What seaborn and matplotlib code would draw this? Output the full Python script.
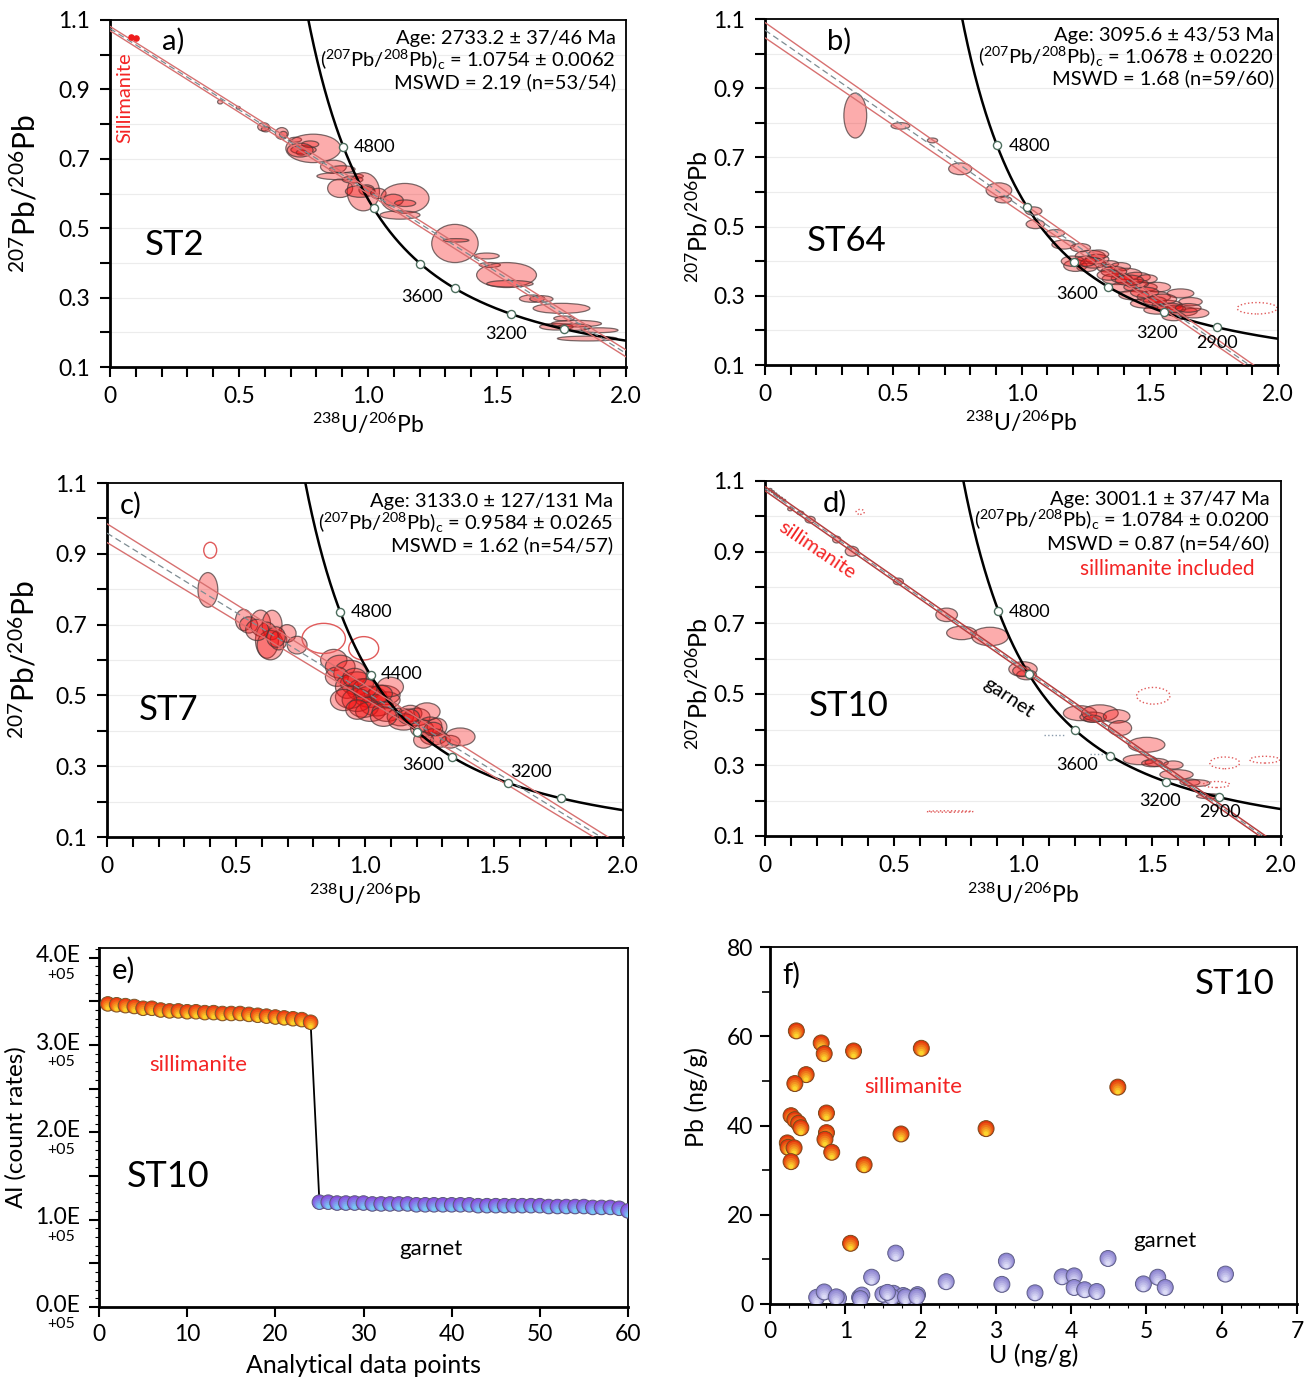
import numpy as np
import matplotlib
matplotlib.use("Agg")
import matplotlib.pyplot as plt
import matplotlib.transforms as mtrans
from matplotlib.patches import Ellipse
from matplotlib.colors import to_rgb
import seaborn as sns

# ---------------- constants for the concordia ----------------
L238 = 1.55125e-4   # 1/Ma
L235 = 9.8485e-4    # 1/Ma
U_RATIO = 137.88
curve_ages = np.arange(2500, 5601, 10)
marker_ages = [4800, 4400, 3900, 3600, 3200, 2900]

# ---------------- panel a (ST2) ----------------
a_x = [0.427, 0.497, 0.595, 0.604, 0.666, 0.672, 0.718, 0.788, 0.750, 0.776, 0.742, 0.737, 0.866, 0.892, 0.892, 0.900, 0.940, 0.982, 0.995, 0.970, 1.040, 1.143, 1.098, 1.144, 1.124, 1.337, 1.341, 1.460, 1.472, 1.537, 1.550, 1.636, 1.672, 1.750, 1.730, 1.760, 1.808, 1.800, 1.898, 1.850]
a_y = [0.864, 0.847, 0.792, 0.785, 0.773, 0.770, 0.755, 0.730, 0.726, 0.742, 0.718, 0.725, 0.677, 0.650, 0.615, 0.670, 0.640, 0.605, 0.610, 0.606, 0.600, 0.586, 0.581, 0.572, 0.538, 0.456, 0.465, 0.420, 0.394, 0.365, 0.340, 0.297, 0.296, 0.269, 0.216, 0.240, 0.225, 0.215, 0.206, 0.182]
a_w = [0.020, 0.016, 0.045, 0.035, 0.050, 0.030, 0.049, 0.213, 0.098, 0.066, 0.040, 0.100, 0.100, 0.180, 0.097, 0.100, 0.080, 0.125, 0.060, 0.115, 0.060, 0.187, 0.077, 0.082, 0.155, 0.180, 0.100, 0.097, 0.082, 0.232, 0.180, 0.098, 0.090, 0.220, 0.130, 0.080, 0.194, 0.130, 0.142, 0.232]
a_h = [0.012, 0.008, 0.024, 0.015, 0.034, 0.018, 0.014, 0.082, 0.024, 0.019, 0.015, 0.040, 0.038, 0.021, 0.053, 0.020, 0.020, 0.110, 0.030, 0.034, 0.030, 0.086, 0.034, 0.019, 0.024, 0.110, 0.010, 0.017, 0.014, 0.072, 0.019, 0.021, 0.019, 0.029, 0.019, 0.014, 0.019, 0.019, 0.014, 0.014]
a_sx = [0.080, 0.100]
a_sy = [1.052, 1.048]
a_info = ["Age: 2733.2 ± 37/46 Ma", "($^{207}$Pb/$^{208}$Pb)$_\\mathrm{c}$ = 1.0754 ± 0.0062", "MSWD = 2.19 (n=53/54)"]
a_age, a_y0 = 2733.2, 1.0754

# ---------------- panel b (ST64) ----------------
b_x = [0.352, 0.528, 0.653, 0.761, 0.912, 0.929, 1.047, 1.054, 1.132, 1.164, 1.230, 1.268, 1.295, 1.210, 1.255, 1.346, 1.386, 1.410, 1.373, 1.450, 1.490, 1.399, 1.464, 1.529, 1.438, 1.516, 1.620, 1.659, 1.490, 1.568, 1.529, 1.620, 1.672, 1.594, 1.300, 1.390, 1.520, 1.600, 1.330, 1.450, 1.200, 1.280, 1.360, 1.420, 1.480, 1.550, 1.580, 1.650, 1.340, 1.250]
b_y = [0.821, 0.791, 0.749, 0.667, 0.605, 0.578, 0.545, 0.507, 0.481, 0.448, 0.439, 0.415, 0.406, 0.387, 0.382, 0.392, 0.384, 0.363, 0.349, 0.354, 0.349, 0.325, 0.325, 0.325, 0.302, 0.297, 0.307, 0.283, 0.278, 0.273, 0.259, 0.255, 0.250, 0.240, 0.420, 0.350, 0.285, 0.262, 0.380, 0.335, 0.400, 0.395, 0.370, 0.345, 0.310, 0.290, 0.265, 0.265, 0.360, 0.400]
b_w = [0.089, 0.073, 0.040, 0.090, 0.100, 0.065, 0.065, 0.072, 0.072, 0.091, 0.078, 0.117, 0.091, 0.091, 0.078, 0.065, 0.078, 0.117, 0.117, 0.104, 0.078, 0.104, 0.130, 0.104, 0.117, 0.130, 0.104, 0.091, 0.130, 0.117, 0.104, 0.130, 0.117, 0.091, 0.080, 0.080, 0.090, 0.080, 0.070, 0.090, 0.090, 0.100, 0.100, 0.110, 0.110, 0.110, 0.100, 0.100, 0.090, 0.080]
b_h = [0.130, 0.019, 0.014, 0.034, 0.043, 0.019, 0.024, 0.026, 0.021, 0.026, 0.024, 0.033, 0.028, 0.033, 0.024, 0.019, 0.024, 0.033, 0.033, 0.028, 0.024, 0.028, 0.028, 0.028, 0.028, 0.033, 0.026, 0.024, 0.028, 0.028, 0.024, 0.028, 0.028, 0.024, 0.025, 0.025, 0.025, 0.022, 0.022, 0.025, 0.030, 0.030, 0.030, 0.030, 0.030, 0.030, 0.028, 0.025, 0.030, 0.030]
b_ox, b_oy, b_ow, b_oh = [1.919], [0.264], [0.156], [0.033]
b_info = ["Age: 3095.6 ± 43/53 Ma", "($^{207}$Pb/$^{208}$Pb)$_\\mathrm{c}$ = 1.0678 ± 0.0220", "MSWD = 1.68 (n=59/60)"]
b_age, b_y0 = 3095.6, 1.0678

# ---------------- panel c (ST7) ----------------
c_x = [0.391, 0.530, 0.549, 0.595, 0.640, 0.620, 0.633, 0.665, 0.698, 0.737, 0.582, 0.655, 0.879, 0.904, 0.943, 0.891, 0.969, 0.930, 0.995, 0.943, 1.021, 1.072, 1.085, 1.046, 0.995, 0.969, 0.917, 1.021, 1.085, 1.098, 1.137, 1.176, 1.201, 1.240, 1.150, 1.253, 1.221, 1.279, 1.266, 1.292, 1.330, 1.369, 1.227, 1.072, 0.970, 1.060, 1.000, 0.960, 1.170, 1.265]
c_y = [0.798, 0.713, 0.699, 0.704, 0.699, 0.656, 0.642, 0.656, 0.675, 0.642, 0.685, 0.665, 0.600, 0.581, 0.562, 0.553, 0.534, 0.524, 0.515, 0.496, 0.496, 0.501, 0.487, 0.472, 0.468, 0.487, 0.487, 0.454, 0.454, 0.524, 0.439, 0.449, 0.439, 0.454, 0.425, 0.416, 0.406, 0.411, 0.383, 0.374, 0.369, 0.383, 0.374, 0.440, 0.460, 0.505, 0.520, 0.550, 0.440, 0.405]
c_w = [0.077, 0.064, 0.070, 0.077, 0.077, 0.089, 0.102, 0.064, 0.070, 0.077, 0.089, 0.072, 0.102, 0.115, 0.128, 0.089, 0.128, 0.089, 0.128, 0.115, 0.128, 0.128, 0.102, 0.128, 0.115, 0.115, 0.102, 0.115, 0.115, 0.102, 0.102, 0.089, 0.102, 0.102, 0.115, 0.089, 0.089, 0.077, 0.102, 0.077, 0.077, 0.115, 0.077, 0.102, 0.089, 0.092, 0.092, 0.092, 0.082, 0.072]
c_h = [0.098, 0.060, 0.046, 0.074, 0.083, 0.102, 0.083, 0.055, 0.050, 0.050, 0.060, 0.058, 0.060, 0.065, 0.074, 0.055, 0.065, 0.065, 0.065, 0.065, 0.060, 0.055, 0.046, 0.060, 0.060, 0.065, 0.060, 0.055, 0.055, 0.055, 0.050, 0.046, 0.050, 0.050, 0.046, 0.046, 0.050, 0.050, 0.046, 0.041, 0.036, 0.050, 0.046, 0.055, 0.055, 0.048, 0.053, 0.053, 0.043, 0.038]
c_ox = [0.400, 0.840, 0.995]
c_oy = [0.910, 0.661, 0.633]
c_ow = [0.050, 0.168, 0.116]
c_oh = [0.045, 0.085, 0.066]
c_info = ["Age: 3133.0 ± 127/131 Ma", "($^{207}$Pb/$^{208}$Pb)$_\\mathrm{c}$ = 0.9584 ± 0.0265", "MSWD = 1.62 (n=54/57)"]
c_age, c_y0 = 3133.0, 0.9584

# ---------------- panel d (ST10) ----------------
d_x = [0.020, 0.030, 0.040, 0.050, 0.062, 0.075, 0.098, 0.137, 0.175, 0.278, 0.337, 0.517, 0.704, 0.762, 0.872, 1.000, 1.014, 0.995, 1.221, 1.272, 1.298, 1.363, 1.376, 1.479, 1.453, 1.518, 1.582, 1.595, 1.647, 1.673, 1.724, 1.740, 1.270, 1.500]
d_y = [1.076, 1.070, 1.064, 1.058, 1.052, 1.046, 1.021, 1.010, 0.991, 0.935, 0.902, 0.817, 0.723, 0.672, 0.662, 0.570, 0.554, 0.565, 0.446, 0.435, 0.446, 0.437, 0.404, 0.357, 0.315, 0.307, 0.300, 0.273, 0.251, 0.249, 0.212, 0.210, 0.430, 0.305]
d_w = [0.014, 0.012, 0.012, 0.012, 0.012, 0.010, 0.020, 0.026, 0.039, 0.032, 0.052, 0.039, 0.084, 0.116, 0.142, 0.110, 0.077, 0.070, 0.129, 0.103, 0.142, 0.103, 0.090, 0.142, 0.129, 0.090, 0.077, 0.129, 0.077, 0.103, 0.103, 0.065, 0.070, 0.080]
d_h = [0.006, 0.006, 0.005, 0.005, 0.005, 0.005, 0.010, 0.010, 0.019, 0.019, 0.028, 0.019, 0.038, 0.038, 0.052, 0.042, 0.028, 0.030, 0.042, 0.028, 0.047, 0.038, 0.042, 0.042, 0.028, 0.023, 0.023, 0.028, 0.019, 0.019, 0.014, 0.011, 0.020, 0.020]
d_ox = [0.369, 1.505, 1.782, 1.937, 1.750, 0.717]
d_oy = [1.013, 0.495, 0.306, 0.315, 0.245, 0.169]
d_ow = [0.032, 0.129, 0.116, 0.116, 0.103, 0.180]
d_oh = [0.014, 0.047, 0.033, 0.019, 0.017, 0.004]
d_info = ["Age: 3001.1 ± 37/47 Ma", "($^{207}$Pb/$^{208}$Pb)$_\\mathrm{c}$ = 1.0784 ± 0.0200", "MSWD = 0.87 (n=54/60)"]
d_age, d_y0 = 3001.1, 1.0784

# ---------------- panel e (Al count rates, units of 1E+05) ----------------
al_sil = [3.47, 3.46, 3.45, 3.44, 3.42, 3.42, 3.40, 3.39, 3.39, 3.38, 3.38, 3.37, 3.37, 3.36, 3.36, 3.36, 3.35, 3.34, 3.33, 3.32, 3.31, 3.30, 3.29, 3.26]
al_gar = [1.20, 1.20, 1.19, 1.19, 1.19, 1.19, 1.18, 1.18, 1.18, 1.18, 1.18, 1.17, 1.17, 1.17, 1.17, 1.17, 1.17, 1.17, 1.16, 1.16, 1.16, 1.16, 1.16, 1.16, 1.16, 1.16, 1.15, 1.15, 1.15, 1.15, 1.15, 1.14, 1.14, 1.14, 1.13, 1.10]
e_yticks = [0, 1, 2, 3, 4]
e_ylabels = ["0.0E", "1.0E", "2.0E", "3.0E", "4.0E"]

# ---------------- panel f (Pb vs U) ----------------
f_sil_u = [0.35, 0.68, 0.72, 1.11, 2.01, 0.48, 0.33, 4.62, 0.28, 0.75, 0.33, 0.38, 0.41, 0.75, 0.73, 1.74, 2.87, 0.23, 0.24, 0.32, 0.82, 0.28, 1.25, 1.07]
f_sil_pb = [61.2, 58.5, 56.1, 56.7, 57.3, 51.4, 49.4, 48.6, 42.2, 42.8, 41.3, 40.5, 39.5, 38.4, 36.9, 38.1, 39.3, 36.1, 35.1, 35.0, 34.0, 31.9, 31.2, 13.6]
f_gar_u = [1.67, 3.14, 4.49, 1.35, 2.34, 3.08, 3.88, 4.04, 4.04, 4.18, 4.34, 3.52, 4.96, 5.15, 5.25, 6.05, 0.62, 0.72, 0.91, 1.19, 1.22, 1.54, 1.64, 1.59, 1.77, 1.93, 1.96, 1.50, 1.62, 0.88, 1.20, 1.56, 1.80, 1.95]
f_gar_pb = [11.4, 9.6, 10.2, 6.0, 5.0, 4.4, 6.1, 6.3, 3.7, 3.2, 2.8, 2.5, 4.5, 6.0, 3.7, 6.7, 1.5, 2.7, 1.3, 1.5, 2.0, 1.9, 2.4, 1.1, 1.9, 1.3, 2.1, 2.2, 1.6, 1.6, 1.2, 2.6, 1.6, 1.7]

# ---------------- style ----------------
sns.set_theme(style="ticks")
plt.rcParams['font.family'] = ['Lato', 'DejaVu Sans']
plt.rcParams['mathtext.fontset'] = 'custom'
plt.rcParams['mathtext.rm'] = 'Lato'
plt.rcParams['mathtext.it'] = 'Lato:italic'
plt.rcParams['mathtext.bf'] = 'Lato:bold'
plt.rcParams['text.color'] = 'black'
plt.rcParams['axes.labelcolor'] = 'black'
plt.rcParams['xtick.color'] = 'black'
plt.rcParams['ytick.color'] = 'black'

RED_TXT = '#f42424'
ELL_FC = (0.97, 0.05, 0.05, 0.34)
ELL_EC = (0.28, 0.22, 0.22, 0.72)
TICK_FS = 16.5

fig = plt.figure(figsize=(13.11, 13.80), dpi=100)
W, H = 1311, 1380


def add_axes(l, t, r, b):
    return fig.add_axes([l / W, 1 - b / H, (r - l) / W, (b - t) / H])


def tw_point(t):
    t = np.asarray(t, dtype=float)
    e8 = np.exp(L238 * t)
    e5 = np.exp(L235 * t)
    return 1.0 / (e8 - 1.0), (e5 - 1.0) / (e8 - 1.0) / U_RATIO


def frame(ax):
    for s in ax.spines.values():
        s.set_visible(True)
        s.set_color('black')
        s.set_linewidth(1.3)
    ax.spines['left'].set_linewidth(2.0)
    ax.spines['bottom'].set_linewidth(2.0)


def tw_panel(ax, ex, ey, ew, eh, info, age, y0, hw0, hw2, env_col, env_lw,
             ox=None, oy=None, ow=None, oh=None, o_ls=':', ylab_size=21.5, ylab_x=-0.135,
             ylab_y=0.5, info_right=1.96, info_y=(1.046, 0.985, 0.922)):
    ax.set_xlim(0, 2)
    ax.set_ylim(0.1, 1.1)
    frame(ax)
    xt = np.round(np.arange(0, 2.001, 0.1), 1)
    ax.set_xticks(xt)
    ax.set_xticklabels(['0' if v == 0 else (f'{v:.1f}' if round(v * 10) % 5 == 0 else '') for v in xt])
    yt = np.round(np.arange(0.1, 1.101, 0.1), 1)
    ax.set_yticks(yt)
    ax.set_yticklabels([f'{v:.1f}' if round(v * 10) % 2 == 1 else '' for v in yt])
    ax.tick_params(axis='x', direction='out', length=7.5, width=1.5, labelsize=TICK_FS, pad=6)
    ax.tick_params(axis='y', direction='out', length=7.5, width=1.5, labelsize=TICK_FS, pad=7)
    for v in yt[1:-1]:
        ax.axhline(v, color='#ececec', lw=0.8, zorder=0)
    # concordia
    cx, cy = tw_point(curve_ages)
    sns.lineplot(x=cx, y=cy, ax=ax, color='black', lw=1.8, sort=False, estimator=None, zorder=3)
    # discordia with envelope
    xa, ya = tw_point(age)
    slope = (ya - y0) / xa
    xs = np.array([0.0, 2.0])
    yc = y0 + slope * xs
    hw = np.array([hw0, hw2])
    sns.lineplot(x=xs, y=yc + hw, ax=ax, color=env_col, lw=env_lw, zorder=3.2)
    sns.lineplot(x=xs, y=yc - hw, ax=ax, color=env_col, lw=env_lw, zorder=3.2)
    ax.plot(xs, yc, color='#7d8c92', lw=0.9, ls=(0, (5, 3)), zorder=3.1)
    # ellipses
    for x, y, w, h in zip(ex, ey, ew, eh):
        ax.add_patch(Ellipse((x, y), w, h, facecolor=ELL_FC, edgecolor=ELL_EC, lw=0.9, zorder=2))
    if ox is not None:
        for x, y, w, h in zip(ox, oy, ow, oh):
            ax.add_patch(Ellipse((x, y), w, h, facecolor='none', edgecolor='#e05a5a', lw=1.0, ls=o_ls, zorder=2))
    # concordia age markers
    mx, my = tw_point(marker_ages)
    ax.scatter(mx, my, s=34, facecolor='white', edgecolor='#4d6e5e', linewidths=1.0, zorder=6)
    ax.set_xlabel('$^{238}$U/$^{206}$Pb', fontsize=16.5)
    ax.xaxis.set_label_coords(0.5, -0.128)
    ax.set_ylabel('$^{207}$Pb/$^{206}$Pb', fontsize=ylab_size)
    ax.yaxis.set_label_coords(ylab_x, ylab_y)
    for txt, yy in zip(info, info_y):
        ax.text(info_right, yy, txt, ha='right', va='center', fontsize=14.5, zorder=8)


def conc_label(ax, x, y, s, ha='center'):
    ax.text(x, y, s, ha=ha, va='center', fontsize=13, zorder=8)


# ---------------- panel a ----------------
ax_a = add_axes(110, 20, 626, 367)
tw_panel(ax_a, a_x, a_y, a_w, a_h, a_info, a_age, a_y0, 0.0062, 0.010, '#d77070', 1.0,
         ylab_size=21.5, ylab_x=-0.134)
ax_a.scatter(a_sx, a_sy, s=14, color='#ee1c1c', zorder=7)
ax_a.text(0.059, 0.875, 'Sillimanite', rotation=90, color=RED_TXT, fontsize=14.5, ha='center', va='center')
ax_a.text(0.246, 1.04, 'a)', fontsize=21, ha='center', va='center')
ax_a.text(0.251, 0.452, 'ST2', fontsize=25, ha='center', va='center')
conc_label(ax_a, 0.945, 0.733, '4800', ha='left')
conc_label(ax_a, 1.21, 0.302, '3600')
conc_label(ax_a, 1.533, 0.196, '3200')

# ---------------- panel b ----------------
ax_b = add_axes(765, 19, 1278, 365)
tw_panel(ax_b, b_x, b_y, b_w, b_h, b_info, b_age, b_y0, 0.022, 0.008, '#d77070', 1.0,
         ox=b_ox, oy=b_oy, ow=b_ow, oh=b_oh, ylab_size=18, ylab_x=-0.106, ylab_y=0.43,
         info_right=1.985, info_y=(1.052, 0.99, 0.928))
ax_b.text(0.287, 1.036, 'b)', fontsize=21, ha='center', va='center')
ax_b.text(0.32, 0.457, 'ST64', fontsize=25, ha='center', va='center')
conc_label(ax_b, 0.95, 0.733, '4800', ha='left')
conc_label(ax_b, 1.216, 0.306, '3600')
conc_label(ax_b, 1.529, 0.193, '3200')
conc_label(ax_b, 1.763, 0.165, '2900')

# ---------------- panel c ----------------
ax_c = add_axes(107, 483, 623, 837)
tw_panel(ax_c, c_x, c_y, c_w, c_h, c_info, c_age, c_y0, 0.0265, 0.012, '#d77070', 1.0,
         ox=c_ox, oy=c_oy, ow=c_ow, oh=c_oh, o_ls='-', ylab_size=21.5, ylab_x=-0.13,
         info_right=1.96, info_y=(1.048, 0.986, 0.923))
ax_c.text(0.09, 1.038, 'c)', fontsize=21, ha='center', va='center')
ax_c.text(0.237, 0.46, 'ST7', fontsize=25, ha='center', va='center')
conc_label(ax_c, 0.943, 0.735, '4800', ha='left')
conc_label(ax_c, 1.061, 0.56, '4400', ha='left')
conc_label(ax_c, 1.224, 0.304, '3600')
conc_label(ax_c, 1.644, 0.285, '3200')

# ---------------- panel d ----------------
ax_d = add_axes(765, 481, 1281, 836)
tw_panel(ax_d, d_x, d_y, d_w, d_h, d_info, d_age, d_y0, 0.006, 0.006, '#b54040', 1.1,
         ox=d_ox, oy=d_oy, ow=d_ow, oh=d_oh, ylab_size=18, ylab_x=-0.104, ylab_y=0.43,
         info_right=1.956, info_y=(1.047, 0.99, 0.924))
ax_d.text(1.898, 0.852, 'sillimanite included', color=RED_TXT, fontsize=15, ha='right', va='center')
ax_d.text(0.27, 1.038, 'd)', fontsize=21, ha='center', va='center')
ax_d.text(0.323, 0.465, 'ST10', fontsize=25, ha='center', va='center')
ax_d.text(0.20, 0.905, 'sillimanite', color=RED_TXT, fontsize=14.5, rotation=-34, ha='center', va='center')
ax_d.text(0.943, 0.49, 'garnet', color='black', fontsize=14.5, rotation=-34, ha='center', va='center')
ax_d.plot([1.08, 1.16], [0.385, 0.385], ls=':', color='#8899aa', lw=1)
ax_d.plot([1.26, 1.32], [0.332, 0.332], ls=':', color='#8899aa', lw=1)
conc_label(ax_d, 0.943, 0.73, '4800', ha='left')
conc_label(ax_d, 1.208, 0.301, '3600')
conc_label(ax_d, 1.53, 0.198, '3200')
conc_label(ax_d, 1.763, 0.167, '2900')


# ---------------- gradient markers ----------------
def grad_points(ax, xs, ys, size, c_top, c_bot, edge, z0=5, n=6):
    ct = np.array(to_rgb(c_top))
    cb = np.array(to_rgb(c_bot))
    R = size / 2.0
    for i, (x, y) in enumerate(zip(xs, ys)):
        z = z0 + i * 0.01
        ax.scatter([x], [y], s=size ** 2, color=[ct], edgecolors='none', zorder=z)
        for k in range(1, n):
            f = k / (n - 1)
            r = R * (1 - 0.72 * f)
            tr = ax.transData + mtrans.ScaledTranslation(0, -(R - r) * 0.85 / 72, fig.dpi_scale_trans)
            ax.scatter([x], [y], s=(2 * r) ** 2, color=[ct * (1 - f) + cb * f], edgecolors='none',
                       transform=tr, zorder=z + 0.001 * k)
        ax.scatter([x], [y], s=size ** 2, facecolors='none', edgecolors=edge, linewidths=0.7,
                   zorder=z + 0.009)


# ---------------- panel e ----------------
ax_e = add_axes(99, 948, 628, 1307)
frame(ax_e)
x_sil = np.arange(1, len(al_sil) + 1)
x_gar = np.arange(len(al_sil) + 1, len(al_sil) + len(al_gar) + 1)
x_all = np.concatenate([x_sil, x_gar])
al_all = np.concatenate([al_sil, al_gar])
sns.lineplot(x=x_all, y=al_all, ax=ax_e, color='black', lw=1.3, zorder=4)
grad_points(ax_e, x_sil, al_sil, 10.5, '#ef3a12', '#fbd22a', '#7a5a2a')
grad_points(ax_e, x_gar, al_gar, 10.5, '#8a4fe0', '#78c8f4', '#5a5a7a', z0=6)
ax_e.set_xlim(0, 60)
ax_e.set_ylim(0, 4.11)
ax_e.set_xticks(np.arange(0, 61, 10))
ax_e.set_yticks(np.arange(0, 4.01, 0.5))
ax_e.set_yticklabels([])
ax_e.set_yticks(np.arange(0, 4.101, 0.1), minor=True)
ax_e.tick_params(axis='x', direction='out', length=7, width=1.5, labelsize=TICK_FS, pad=5)
ax_e.tick_params(axis='y', which='major', direction='out', length=7, width=1.5)
ax_e.tick_params(axis='y', which='minor', direction='out', length=3, width=0.8)
blend = mtrans.blended_transform_factory(ax_e.transAxes, ax_e.transData)
for v, lab in zip(e_yticks, e_ylabels):
    ax_e.text(-0.035, v + 0.02, lab, transform=blend, ha='right', va='center', fontsize=TICK_FS)
    ax_e.text(-0.045, v - 0.2, '+05', transform=blend, ha='right', va='center', fontsize=11.5)
ax_e.set_xlabel('Analytical data points', fontsize=18)
ax_e.xaxis.set_label_coords(0.5, -0.13)
ax_e.set_ylabel('Al (count rates)', fontsize=17.5)
ax_e.yaxis.set_label_coords(-0.137, 0.5)
ax_e.text(11.3, 2.77, 'sillimanite', color=RED_TXT, fontsize=16, ha='center', va='center')
ax_e.text(37.6, 0.66, 'garnet', color='black', fontsize=16, ha='center', va='center')
ax_e.text(7.8, 1.49, 'ST10', fontsize=26, ha='center', va='center')
ax_e.text(2.8, 3.86, 'e)', fontsize=21, ha='center', va='center')

# ---------------- panel f ----------------
ax_f = add_axes(770, 947, 1297, 1304)
frame(ax_f)
grad_points(ax_f, f_gar_u, f_gar_pb, 11.5, '#8f86d2', '#dcdcf6', '#5e5e86')
grad_points(ax_f, f_sil_u, f_sil_pb, 11.5, '#e5380e', '#fcd52e', '#7a4a1a', z0=7)
ax_f.set_xlim(0, 7)
ax_f.set_ylim(0, 80)
ax_f.set_xticks(np.arange(0, 8, 1))
ax_f.set_xticks(np.arange(0, 7.01, 0.25), minor=True)
ax_f.set_yticks(np.arange(0, 81, 20))
ax_f.set_yticks(np.arange(10, 80, 20), minor=True)
ax_f.tick_params(axis='both', which='major', direction='out', length=7, width=1.5, labelsize=TICK_FS, pad=5)
ax_f.tick_params(axis='x', which='minor', direction='out', length=3, width=0.8)
ax_f.tick_params(axis='y', which='minor', direction='out', length=6, width=1.2)
ax_f.set_xlabel('U (ng/g)', fontsize=18)
ax_f.xaxis.set_label_coords(0.5, -0.11)
ax_f.set_ylabel('Pb (ng/g)', fontsize=18)
ax_f.yaxis.set_label_coords(-0.118, 0.58)
ax_f.text(0.29, 73.6, 'f)', fontsize=21, ha='center', va='center')
ax_f.text(6.7, 71.8, 'ST10', fontsize=25, ha='right', va='center')
ax_f.text(1.9, 48.6, 'sillimanite', color=RED_TXT, fontsize=16, ha='center', va='center')
ax_f.text(5.24, 14.2, 'garnet', color='black', fontsize=16, ha='center', va='center')

fig.savefig('out.png', dpi=100, facecolor='white')
